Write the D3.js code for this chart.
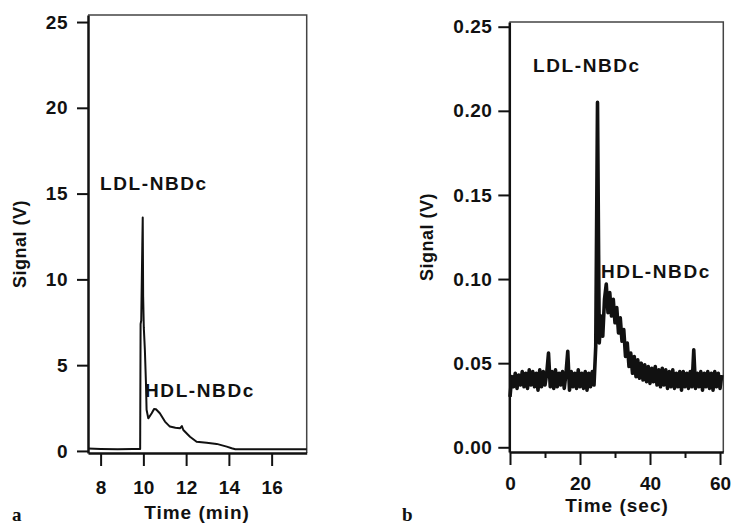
<!DOCTYPE html>
<html>
<head>
<meta charset="utf-8">
<script src="https://cdn.jsdelivr.net/npm/d3@7"></script>
<style>
  body { margin: 0; background: #fff; }
  svg text { font-family: "Liberation Sans", Arial, sans-serif; font-weight: bold; fill: #111; }
  .axis .domain { stroke: #111; stroke-width: 2.5; }
  .axis line { stroke: #111; stroke-width: 2; }
  .frame { fill: none; stroke: #444; stroke-width: 1.5; }
  .trace { fill: none; stroke: #111; stroke-linejoin: round; }
  .panel-letter { font-family: "Liberation Serif", "Times New Roman", serif !important; }
</style>
</head>
<body>
<svg id="chart" width="734" height="528"></svg>
<script>
// panel a: time (min) vs signal (V)
const timeA = [7.41, 8.0, 8.8, 9.5, 9.85, 9.87, 9.9, 9.95, 9.97, 9.99, 10.02, 10.07, 10.12, 10.15,
  10.23, 10.39, 10.5, 10.59, 10.77, 11.01, 11.24, 11.5, 11.71, 11.8, 11.87, 12.18, 12.49,
  12.96, 13.43, 13.9, 14.13, 14.3, 15.5, 17.64];
const signalA = [0.14, 0.12, 0.1, 0.12, 0.12, 7.4, 7.6, 12.0, 13.6, 9.0, 7.2, 5.9, 4.0, 2.4,
  1.9, 2.2, 2.45, 2.43, 2.2, 1.71, 1.42, 1.35, 1.32, 1.45, 1.22, 0.83, 0.54,
  0.48, 0.41, 0.25, 0.16, 0.1, 0.1, 0.1];
const xTicksA = [8, 10, 12, 14, 16];
const yTicksA = [0, 5, 10, 15, 20, 25];

// panel b: signal (V) sampled every 0.5 s from 0 s
const stepB = 0.5;
const signalB = [
  0.030, 0.042, 0.036, 0.044, 0.035, 0.043, 0.037, 0.045, 0.036, 0.044,
  0.035, 0.046, 0.037, 0.045, 0.036, 0.044, 0.034, 0.046, 0.036, 0.045,
  0.037, 0.044, 0.056, 0.036, 0.045, 0.035, 0.046, 0.036, 0.044, 0.037,
  0.045, 0.035, 0.044, 0.057, 0.034, 0.045, 0.036, 0.044, 0.035, 0.046,
  0.036, 0.044, 0.035, 0.045, 0.034, 0.044, 0.036, 0.045, 0.037, 0.060,
  0.205, 0.062, 0.078, 0.066, 0.088, 0.097, 0.080, 0.092, 0.078, 0.088,
  0.074, 0.083, 0.068, 0.077, 0.063, 0.070, 0.054, 0.062, 0.048, 0.056,
  0.044, 0.054, 0.042, 0.052, 0.041, 0.050, 0.040, 0.049, 0.039, 0.048,
  0.038, 0.047, 0.039, 0.048, 0.037, 0.046, 0.036, 0.047, 0.037, 0.046,
  0.035, 0.045, 0.036, 0.046, 0.035, 0.044, 0.036, 0.045, 0.034, 0.045,
  0.036, 0.044, 0.035, 0.045, 0.036, 0.058, 0.035, 0.044, 0.036, 0.045,
  0.034, 0.044, 0.036, 0.045, 0.035, 0.044, 0.034, 0.045, 0.036, 0.044,
  0.035, 0.043
];
const xTicksB = [0, 20, 40, 60];
const xMinorTicksB = [10, 30, 50];
const yTicksB = [0, 0.05, 0.1, 0.15, 0.2, 0.25];

const svg = d3.select("#chart");

const panels = [
  {
    box: { left: 88, right: 306.7, top: 15, bottom: 453 },
    xDomain: [7.41, 17.64],
    yDomain: [-0.12, 25.41],
    data: timeA.map((t, i) => [t, signalA[i]]),
    xTicks: xTicksA,
    yTicks: yTicksA,
    yFormat: d3.format("d"),
    xPad: 15,
    yPad: 9,
    lineWidth: 2,
    xTitle: "Time (min)",
    xTitlePos: [197, 519],
    yTitlePos: [26, 244],
    letter: "a",
    letterPos: [12, 521],
    labels: [
      { text: "LDL-NBDc", x: 100, y: 190 },
      { text: "HDL-NBDc", x: 145, y: 397 },
    ],
  },
  {
    box: { left: 509.3, right: 723.3, top: 22, bottom: 452 },
    xDomain: [-0.2, 60.94],
    yDomain: [-0.0028, 0.2528],
    data: signalB.map((v, i) => [i * stepB, v]),
    xTicks: xTicksB,
    xMinor: xMinorTicksB,
    yTicks: yTicksB,
    yFormat: d3.format(".2f"),
    xPad: 12,
    yPad: 6,
    lineWidth: 3.6,
    xTitle: "Time (sec)",
    xTitlePos: [617, 512],
    yTitlePos: [433, 237],
    letter: "b",
    letterPos: [402, 521],
    labels: [
      { text: "LDL-NBDc", x: 533, y: 72 },
      { text: "HDL-NBDc", x: 601, y: 278 },
    ],
  },
];

function drawPanel(p) {
  const x = d3.scaleLinear().domain(p.xDomain).range([p.box.left, p.box.right]);
  const y = d3.scaleLinear().domain(p.yDomain).range([p.box.bottom, p.box.top]);

  // top and right of the frame
  svg.append("path")
    .attr("class", "frame")
    .attr("d", `M${p.box.left},${p.box.top}H${p.box.right}V${p.box.bottom}`);

  const line = d3.line().x((d) => x(d[0])).y((d) => y(d[1]));
  svg.append("path")
    .datum(p.data)
    .attr("class", "trace")
    .attr("stroke-width", p.lineWidth)
    .attr("d", line);

  if (p.xMinor) {
    svg.append("g")
      .attr("class", "axis")
      .attr("transform", `translate(0,${p.box.bottom})`)
      .call(d3.axisBottom(x).tickValues(p.xMinor).tickSize(6).tickFormat(""))
      .call((g) => g.select(".domain").remove());
  }

  svg.append("g")
    .attr("class", "axis axis--x")
    .attr("transform", `translate(0,${p.box.bottom})`)
    .call(d3.axisBottom(x).tickValues(p.xTicks).tickSize(13).tickSizeOuter(0).tickPadding(p.xPad))
    .call((g) => g.selectAll("text").attr("font-size", 19).attr("font-family", null).attr("fill", null));

  svg.append("g")
    .attr("class", "axis axis--y")
    .attr("transform", `translate(${p.box.left},0)`)
    .call(d3.axisLeft(y).tickValues(p.yTicks).tickFormat(p.yFormat).tickSize(11).tickSizeOuter(0).tickPadding(p.yPad))
    .call((g) => g.selectAll("text").attr("font-size", 19).attr("font-family", null).attr("fill", null)
      .style("letter-spacing", "0.5px"));

  svg.append("text")
    .attr("x", p.xTitlePos[0])
    .attr("y", p.xTitlePos[1])
    .attr("text-anchor", "middle")
    .attr("font-size", 19)
    .style("letter-spacing", "1px")
    .text(p.xTitle);

  svg.append("text")
    .attr("transform", `translate(${p.yTitlePos[0]},${p.yTitlePos[1]}) rotate(-90)`)
    .attr("text-anchor", "middle")
    .attr("font-size", 18)
    .style("letter-spacing", "0.5px")
    .text("Signal (V)");

  svg.selectAll(null)
    .data(p.labels)
    .enter()
    .append("text")
    .attr("x", (d) => d.x)
    .attr("y", (d) => d.y)
    .attr("font-size", 19)
    .style("letter-spacing", "1.6px")
    .text((d) => d.text);

  svg.append("text")
    .attr("class", "panel-letter")
    .attr("x", p.letterPos[0])
    .attr("y", p.letterPos[1])
    .attr("font-size", 19)
    .text(p.letter);
}

panels.forEach(drawPanel);
</script>
</body>
</html>
